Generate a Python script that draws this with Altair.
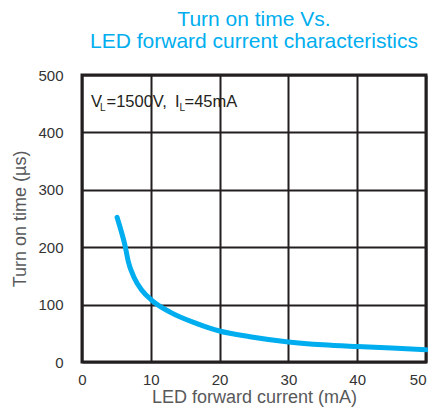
import altair as alt
import pandas as pd

current_mA = [5.1, 5.5, 6.25, 6.75, 7.5, 8.7, 10.1, 12.8, 16.7, 20, 24.4, 30, 35, 40, 45, 50]
turn_on_us = [252, 236, 203, 174, 149, 125, 108, 87, 67, 54, 44, 35, 30, 27, 24.5, 21.5]

x_ticks = [0, 10, 20, 30, 40, 50]
y_ticks = [0, 100, 200, 300, 400, 500]

ann_text = ["V", "L", "=1500V,", "I", "L", "=45mA"]
ann_x = [9, 18, 24.5, 93, 97.5, 102.5]
ann_dy = [0, 3.5, 0, 0, 3.5, 0]
ann_size = [16.5, 10, 16.5, 16.5, 10, 16.5]

df = pd.DataFrame({"x": current_mA, "y": turn_on_us})

FONT = "Liberation Sans"
BLUE = "#00AEEF"
DARK = "#231F20"

line = alt.Chart(df).mark_line(
    color=BLUE, strokeWidth=5, interpolate="monotone", strokeCap="round"
).encode(
    x=alt.X("x:Q", scale=alt.Scale(domain=[0, 50], nice=False),
            axis=alt.Axis(values=x_ticks, title="LED forward current (mA)",
                          labelPadding=10, titlePadding=1, labelFlush=False,
                          labelAlign={"condition": {"test": "datum.value == 50", "value": "right"},
                                      "value": "center"})),
    y=alt.Y("y:Q", scale=alt.Scale(domain=[0, 500], nice=False),
            axis=alt.Axis(values=y_ticks, title="Turn on time (µs)",
                          labelPadding=19, titlePadding=8, labelFlush=False)),
)

layers = [line]
for t, xv, dy, s in zip(ann_text, ann_x, ann_dy, ann_size):
    layers.append(
        alt.Chart(pd.DataFrame({"t": [t]})).mark_text(
            align="left", baseline="alphabetic", font=FONT, fontSize=s,
            color=DARK, dy=dy
        ).encode(text="t:N", x=alt.value(xv), y=alt.value(32))
    )

chart = alt.layer(*layers).properties(
    width=344, height=287,
    title=alt.TitleParams(
        ["Turn on time Vs.", "LED forward current characteristics"],
        color=BLUE, font=FONT, fontSize=21, fontWeight="normal",
        anchor="middle", offset=16, lineHeight=22,
    ),
    autosize=alt.AutoSizeParams(type="none"),
    padding={"left": 74, "top": 67, "right": 2, "bottom": 52},
).configure_view(
    stroke=DARK, strokeWidth=3
).configure_axis(
    grid=True, gridColor=DARK, gridWidth=2, gridOpacity=1,
    domain=False, ticks=False,
    labelFont=FONT, labelFontSize=15, labelColor="#333333",
    titleFont=FONT, titleFontSize=18, titleColor="#58595B", titleFontWeight="normal",
)

chart.save("out.html", embed_options={"renderer": "svg", "actions": False})
